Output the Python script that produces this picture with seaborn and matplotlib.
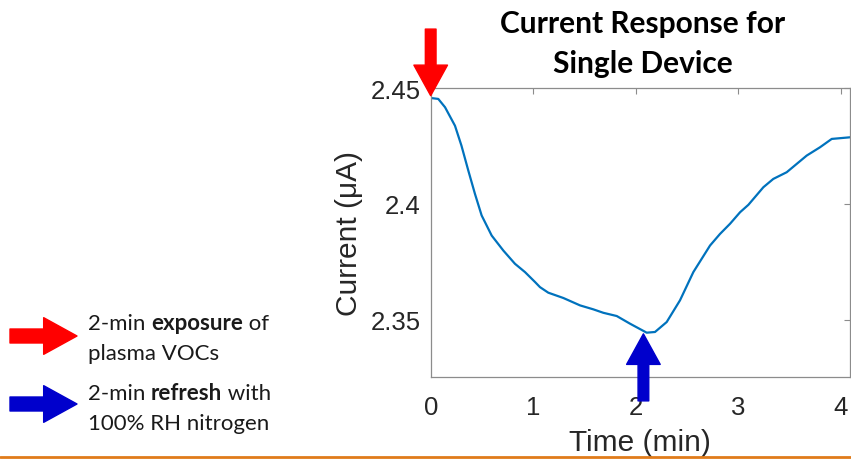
import matplotlib
matplotlib.use("Agg")
import matplotlib.pyplot as plt
import seaborn as sns
import pandas as pd
from matplotlib.lines import Line2D

# ---- data ----
time_min = [0.00, 0.074, 0.14, 0.237, 0.30, 0.367, 0.432, 0.497, 0.595, 0.709,
            0.822, 0.92, 1.018, 1.066, 1.147, 1.294, 1.457, 1.586, 1.684, 1.815,
            1.944, 2.107, 2.188, 2.302, 2.432, 2.562, 2.725, 2.822, 2.92, 3.018,
            3.099, 3.245, 3.342, 3.473, 3.668, 3.798, 3.912, 4.09]
current_uA = [2.4458, 2.4454, 2.4418, 2.4338, 2.4252, 2.4144, 2.4043, 2.3950, 2.3863, 2.3798,
              2.3741, 2.3705, 2.3662, 2.3640, 2.3616, 2.3593, 2.3561, 2.3544, 2.3529, 2.3515,
              2.3482, 2.3443, 2.3446, 2.3489, 2.3583, 2.3705, 2.3820, 2.3870, 2.3914, 2.3964,
              2.3996, 2.4072, 2.4108, 2.4137, 2.4209, 2.4245, 2.4281, 2.4288]
x_ticks = [0, 1, 2, 3, 4]
y_ticks = [2.35, 2.40, 2.45]
y_tick_labels = ["2.35", "2.4", "2.45"]
title_lines = ["Current Response for", "Single Device"]
legend_lines = [
    [("2-min ", "normal"), ("exposure", "bold"), (" of", "normal")],
    [("plasma VOCs", "normal")],
    [("2-min ", "normal"), ("refresh", "bold"), (" with", "normal")],
    [("100% RH nitrogen", "normal")],
]

df = pd.DataFrame({"Time (min)": time_min, "Current (μA)": current_uA})

sns.set_style("white")
plt.rcParams["font.family"] = ["Liberation Sans", "DejaVu Sans"]

fig = plt.figure(figsize=(8.51, 4.60), dpi=100)
ax = fig.add_axes([0.5061, 0.1776, 0.4927, 0.6283])

sns.lineplot(data=df, x="Time (min)", y="Current (μA)", ax=ax,
             color="#0072BD", linewidth=1.6)

ax.set_xlim(0, 4.09)
ax.set_ylim(2.325, 2.45)
ax.set_xticks(x_ticks)
ax.set_yticks(y_ticks)
ax.set_yticklabels(y_tick_labels)
ax.tick_params(direction="in", length=4, width=0.8, color="#8c8c8c",
               top=True, right=True, labelsize=18.5, labelcolor="#262626", pad=7)
ax.tick_params(axis="x", pad=13)
for s in ax.spines.values():
    s.set_color("#8c8c8c")
    s.set_linewidth(0.9)
ax.set_xlabel("Time (min)", fontsize=21.5, color="#262626", labelpad=6)
ax.set_ylabel("Current (μA)", fontsize=21.5, color="#262626", labelpad=6)

W, H = 851, 460
for line, yb in zip(title_lines, [33, 73]):
    fig.text(642.5 / W, 1 - yb / H, line, ha="center", va="baseline", fontsize=21.5,
             fontweight="bold", family=["Lato", "DejaVu Sans"], color="black")

# annotation arrows on the plot
ax.annotate("", xy=(0.0, 2.4468), xytext=(0.0, 2.4756), annotation_clip=False,
            arrowprops=dict(arrowstyle="simple,head_length=1.0,head_width=1.1,tail_width=0.35",
                            color="#FF0000", shrinkA=0, shrinkB=0, mutation_scale=22))
ax.annotate("", xy=(2.075, 2.3438), xytext=(2.075, 2.3148), annotation_clip=False,
            arrowprops=dict(arrowstyle="simple,head_length=1.0,head_width=1.1,tail_width=0.35",
                            color="#0000CC", shrinkA=0, shrinkB=0, mutation_scale=22))

# legend arrows (figure coords in pixels)
def fpx(x, y):
    return (x / W, 1 - y / H)
for y, c in [(337, "#FF0000"), (405, "#0000CC")]:
    fig.patches.append(matplotlib.patches.FancyArrowPatch(
        fpx(10, y), fpx(77, y), transform=fig.transFigure,
        arrowstyle="simple,head_length=1.0,head_width=1.1,tail_width=0.42",
        mutation_scale=24, color=c, shrinkA=0, shrinkB=0))

# legend text with mixed weights
fig.canvas.draw()
renderer = fig.canvas.get_renderer()
baselines = [330, 360, 400, 430]
for line, yb in zip(legend_lines, baselines):
    x = 88
    for txt, wt in line:
        t = fig.text(x / W, 1 - yb / H, txt, fontsize=16, fontweight=wt,
                     family=["Lato", "DejaVu Sans"], va="baseline", ha="left",
                     color="#1a1a1a")
        bb = t.get_window_extent(renderer)
        x += bb.width

# orange bottom rule
fig.add_artist(Line2D([0, 1], [1 - 458 / H, 1 - 458 / H], transform=fig.transFigure,
                      color="#E07B1A", linewidth=2))

fig.savefig("out.png", dpi=100)
